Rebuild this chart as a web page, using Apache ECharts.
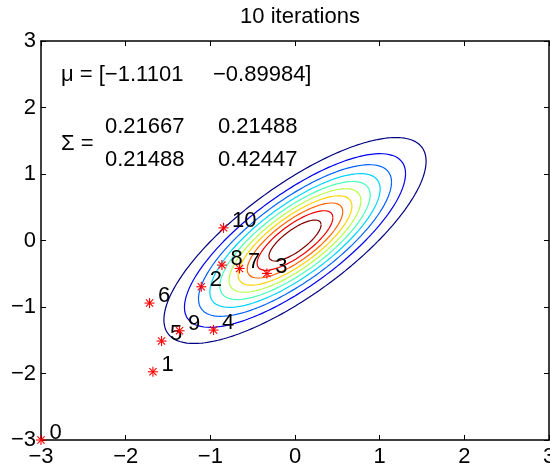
<!DOCTYPE html>
<html>
<head>
<meta charset="utf-8">
<script src="https://cdn.jsdelivr.net/npm/echarts@6/dist/echarts.min.js"></script>
<style>
html,body{margin:0;padding:0;background:#fff;}
#c{width:550px;height:470px;}
</style>
</head>
<body>
<div id="c"></div>
<script>
// ---- data ----
const pointX = [-3, -1.678, -1.107, -0.332, -0.962, -1.576, -1.718, -0.655, -0.863, -1.364, -0.844];
const pointY = [-3, -1.974, -0.696, -0.495, -1.347, -1.512, -0.941, -0.420, -0.370, -1.358, 0.190];
const pointLabels = ['0','1','2','3','4','5','6','7','8','9','10'];

// Gaussian whose contours are drawn
const contourMean = [0, 0];
const contourCov = [[0.5, 0.385], [0.385, 0.5]];
// contour levels as fractions of the peak density
const levelFractions = [0.0909, 0.1818, 0.2727, 0.3636, 0.4545, 0.5455, 0.6364, 0.7273, 0.8182, 0.9091];
const levelColors = ['#000080', '#0000f1', '#0063ff', '#00d4ff', '#47ffb8', '#b8ff47', '#ffd400', '#ff6300', '#f10000', '#800000'];

const tickValues = [-3, -2, -1, 0, 1, 2, 3];
const titleText = '10 iterations';
const muText = ['μ = [−1.1101', '−0.89984]'];
const sigmaRows = [['0.21667', '0.21488'], ['0.21488', '0.42447']];

// ---- build contour ellipses ----
const l11 = Math.sqrt(contourCov[0][0]);
const l21 = contourCov[1][0] / l11;
const l22 = Math.sqrt(contourCov[1][1] - l21 * l21);
const contourSeries = levelFractions.map((f, i) => {
  const d = Math.sqrt(-2 * Math.log(f));
  const pts = [];
  const N = 240;
  for (let k = 0; k <= N; k++) {
    const t = 2 * Math.PI * k / N;
    const u = d * Math.cos(t), v = d * Math.sin(t);
    pts.push([contourMean[0] + l11 * u, contourMean[1] + l21 * u + l22 * v]);
  }
  return {
    type: 'line', data: pts, showSymbol: false, symbol: 'none', silent: true,
    lineStyle: { color: levelColors[i], width: 1.2 }, z: 2, smooth: false
  };
});

const fmt = v => String(v).replace('-', '\u2212');
const FONT = '"Liberation Sans", Arial, Helvetica, sans-serif';
const FS = 22;

const chart = echarts.init(document.getElementById('c'), null, { renderer: 'canvas' });
const axisCommon = {
  type: 'value', min: -3, max: 3, interval: 1,
  splitLine: { show: false },
  axisLine: { show: true, onZero: false, lineStyle: { color: '#000', width: 1.5 } },
  axisTick: { show: true, inside: true, length: 5, lineStyle: { color: '#000', width: 1 } }
};
chart.setOption({
  animation: false,
  backgroundColor: '#fff',
  title: {
    text: titleText, left: 295, top: 1, textAlign: 'center',
    textStyle: { fontFamily: FONT, fontSize: FS, fontWeight: 'normal', color: '#000' }
  },
  grid: { left: 41, right: 1, top: 41, bottom: 30, containLabel: false, outerBoundsMode: 'none' },
  xAxis: [
    Object.assign({}, axisCommon, { position: 'bottom',
      axisLabel: { formatter: fmt, fontFamily: FONT, fontSize: FS, color: '#000', margin: 6, showMinLabel: true, showMaxLabel: true, hideOverlap: false } }),
    Object.assign({}, axisCommon, { position: 'top', axisLabel: { show: false } })
  ],
  yAxis: [
    Object.assign({}, axisCommon, { position: 'left',
      axisLabel: { formatter: fmt, fontFamily: FONT, fontSize: FS, color: '#000', margin: 5, showMinLabel: true, showMaxLabel: true, hideOverlap: false } }),
    Object.assign({}, axisCommon, { position: 'right', axisLabel: { show: false } })
  ],
  graphic: [
    { type: 'text', left: 61, top: 64, style: { text: muText[0], font: FS + 'px ' + FONT, fill: '#000' } },
    { type: 'text', left: 213, top: 64, style: { text: muText[1], font: FS + 'px ' + FONT, fill: '#000' } },
    { type: 'text', left: 61, top: 133, style: { text: 'Σ =', font: FS + 'px ' + FONT, fill: '#000' } },
    { type: 'text', left: 105, top: 116, style: { text: sigmaRows[0][0], font: FS + 'px ' + FONT, fill: '#000' } },
    { type: 'text', left: 218, top: 116, style: { text: sigmaRows[0][1], font: FS + 'px ' + FONT, fill: '#000' } },
    { type: 'text', left: 105, top: 149, style: { text: sigmaRows[1][0], font: FS + 'px ' + FONT, fill: '#000' } },
    { type: 'text', left: 218, top: 149, style: { text: sigmaRows[1][1], font: FS + 'px ' + FONT, fill: '#000' } }
  ],
  series: contourSeries.concat([{
    type: 'custom',
    data: pointX.map((x, i) => [x, pointY[i], i]),
    z: 5,
    clip: false,
    renderItem: function (params, api) {
      const x = api.value(0), y = api.value(1), idx = api.value(2);
      const p = api.coord([x, y]);
      const q = api.coord([x + 0.1, y + 0.1]);
      const r = 5, rd = 3.6;
      const ls = { stroke: '#ff0000', lineWidth: 1.1 };
      return {
        type: 'group',
        children: [
          { type: 'line', shape: { x1: p[0] - r, y1: p[1], x2: p[0] + r, y2: p[1] }, style: ls },
          { type: 'line', shape: { x1: p[0], y1: p[1] - r, x2: p[0], y2: p[1] + r }, style: ls },
          { type: 'line', shape: { x1: p[0] - rd, y1: p[1] - rd, x2: p[0] + rd, y2: p[1] + rd }, style: ls },
          { type: 'line', shape: { x1: p[0] - rd, y1: p[1] + rd, x2: p[0] + rd, y2: p[1] - rd }, style: ls },
          { type: 'text', x: q[0], y: q[1], style: { text: pointLabels[idx], font: FS + 'px ' + FONT, fill: '#000', align: 'left', verticalAlign: 'middle' } }
        ]
      };
    }
  }])
});
</script>
</body>
</html>
